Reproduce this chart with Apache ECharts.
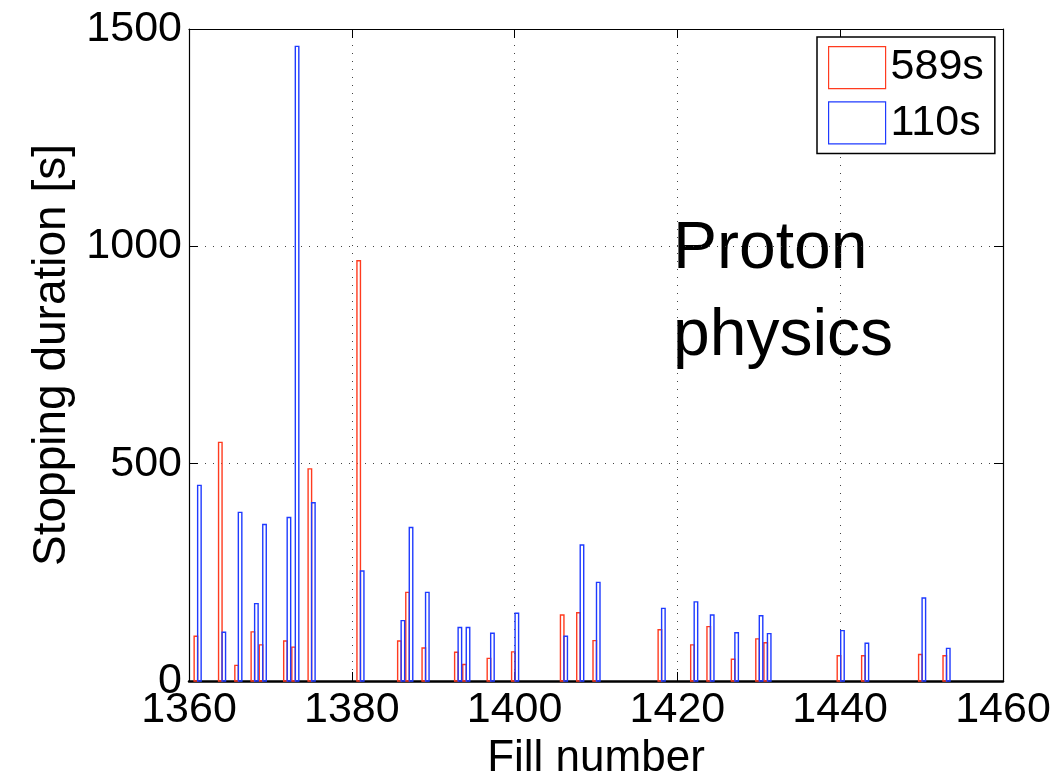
<!DOCTYPE html>
<html>
<head>
<meta charset="utf-8">
<script src="https://cdn.jsdelivr.net/npm/echarts@6/dist/echarts.min.js"></script>
<style>html,body{margin:0;padding:0;background:#fff}#c{width:1061px;height:778px}</style>
</head>
<body>
<div id="c"></div>
<script>
const fills = [1361,1364,1366,1368,1369,1372,1373,1375,1381,1386,1387,1389,1393,1394,1397,1400,1406,1408,1410,1418,1422,1424,1427,1430,1431,1440,1443,1450,1453];
const stop589 = [103,549,36,113,83,92,78,488,967,92,204,76,66,38,52,67,152,157,93,118,83,125,50,97,88,58,58,61,58];
const stop110 = [450,112,388,178,360,376,1460,410,253,139,353,204,123,123,110,156,103,313,227,167,182,152,111,150,109,116,87,191,75];
const seriesNames = ['589s','110s'];
const xTicks = [1360,1380,1400,1420,1440,1460];
const yTicks = [0,500,1000,1500];
const annotation = ['Proton','physics'];

const RED = '#ff3b1f', BLUE = '#1f3bff';
const FONT = '"Liberation Sans", Arial, Helvetica, sans-serif';

function barRender(offset, color) {
  return function (params, api) {
    const x = api.value(0), y = api.value(1);
    const p0 = api.coord([x, 0]);
    const p1 = api.coord([x, y]);
    return {
      type: 'rect',
      shape: { x: p0[0] + offset, y: p1[1], width: 3.5, height: p0[1] - p1[1] },
      style: { fill: 'rgba(0,0,0,0)', stroke: color, lineWidth: 1.4 }
    };
  };
}

const chart = echarts.init(document.getElementById('c'), null, { renderer: 'canvas' });
const grid = { left: 189, right: 58, top: 29, bottom: 97, containLabel: false, outerBoundsMode: 'none' };
const gridLine = { show: true, lineStyle: { color: '#444', type: [1, 7], width: 1 } };
const plain = v => String(v);
chart.setOption({
  animation: false,
  backgroundColor: '#fff',
  grid: grid,
  legend: {
    left: 817, top: 37,
    orient: 'vertical',
    itemWidth: 57, itemHeight: 42, itemGap: 12,
    padding: [9, 11, 9, 11],
    borderColor: '#000', borderWidth: 1.5,
    backgroundColor: '#fff',
    textStyle: { fontFamily: FONT, fontSize: 43, color: '#000', padding: [0, 0, 0, 0] },
    data: [
      { name: seriesNames[0], icon: 'rect', itemStyle: { color: '#fff', borderColor: RED, borderWidth: 1.2 } },
      { name: seriesNames[1], icon: 'rect', itemStyle: { color: '#fff', borderColor: BLUE, borderWidth: 1.2 } }
    ]
  },
  xAxis: [{
    type: 'value', min: xTicks[0], max: xTicks[xTicks.length - 1], interval: 20,
    name: 'Fill number', nameLocation: 'middle', nameGap: 49,
    nameTextStyle: { fontFamily: FONT, fontSize: 44, color: '#000' },
    axisLine: { show: true, onZero: false, lineStyle: { color: '#000', width: 2.5 } },
    axisTick: { show: true, inside: true, length: 9, lineStyle: { color: '#000' } },
    axisLabel: { fontFamily: FONT, fontSize: 43, color: '#000', margin: 8, formatter: plain },
    splitLine: gridLine
  }, {
    type: 'value', position: 'top', min: xTicks[0], max: xTicks[xTicks.length - 1], interval: 20,
    axisLine: { show: true, onZero: false, lineStyle: { color: '#000', width: 1.2 } },
    axisTick: { show: true, inside: true, length: 9, lineStyle: { color: '#000' } },
    axisLabel: { show: false }, splitLine: { show: false }
  }],
  yAxis: [{
    type: 'value', min: yTicks[0], max: yTicks[yTicks.length - 1], interval: 500,
    name: 'Stopping duration [s]', nameLocation: 'middle', nameGap: 106,
    nameTextStyle: { fontFamily: FONT, fontSize: 46, color: '#000' },
    axisLine: { show: true, onZero: false, lineStyle: { color: '#000', width: 1.2 } },
    axisTick: { show: true, inside: true, length: 9, lineStyle: { color: '#000' } },
    axisLabel: { fontFamily: FONT, fontSize: 43, color: '#000', margin: 7, formatter: plain },
    splitLine: gridLine
  }, {
    type: 'value', position: 'right', min: yTicks[0], max: yTicks[yTicks.length - 1], interval: 500,
    axisLine: { show: true, onZero: false, lineStyle: { color: '#000', width: 1.2 } },
    axisTick: { show: true, inside: true, length: 9, lineStyle: { color: '#000' } },
    axisLabel: { show: false }, splitLine: { show: false }
  }],
  graphic: [
    { type: 'text', left: 673, top: 217, style: { text: annotation[0], fontFamily: FONT, fontSize: 66, fill: '#000' } },
    { type: 'text', left: 673, top: 304, style: { text: annotation[1], fontFamily: FONT, fontSize: 66, fill: '#000' } }
  ],
  series: [
    { name: seriesNames[0], type: 'custom', color: RED, renderItem: barRender(-3, RED),
      data: fills.map((f, i) => [f, stop589[i]]), encode: { x: 0, y: 1 } },
    { name: seriesNames[1], type: 'custom', color: BLUE, renderItem: barRender(0.5, BLUE),
      data: fills.map((f, i) => [f, stop110[i]]), encode: { x: 0, y: 1 } }
  ]
});
</script>
</body>
</html>
